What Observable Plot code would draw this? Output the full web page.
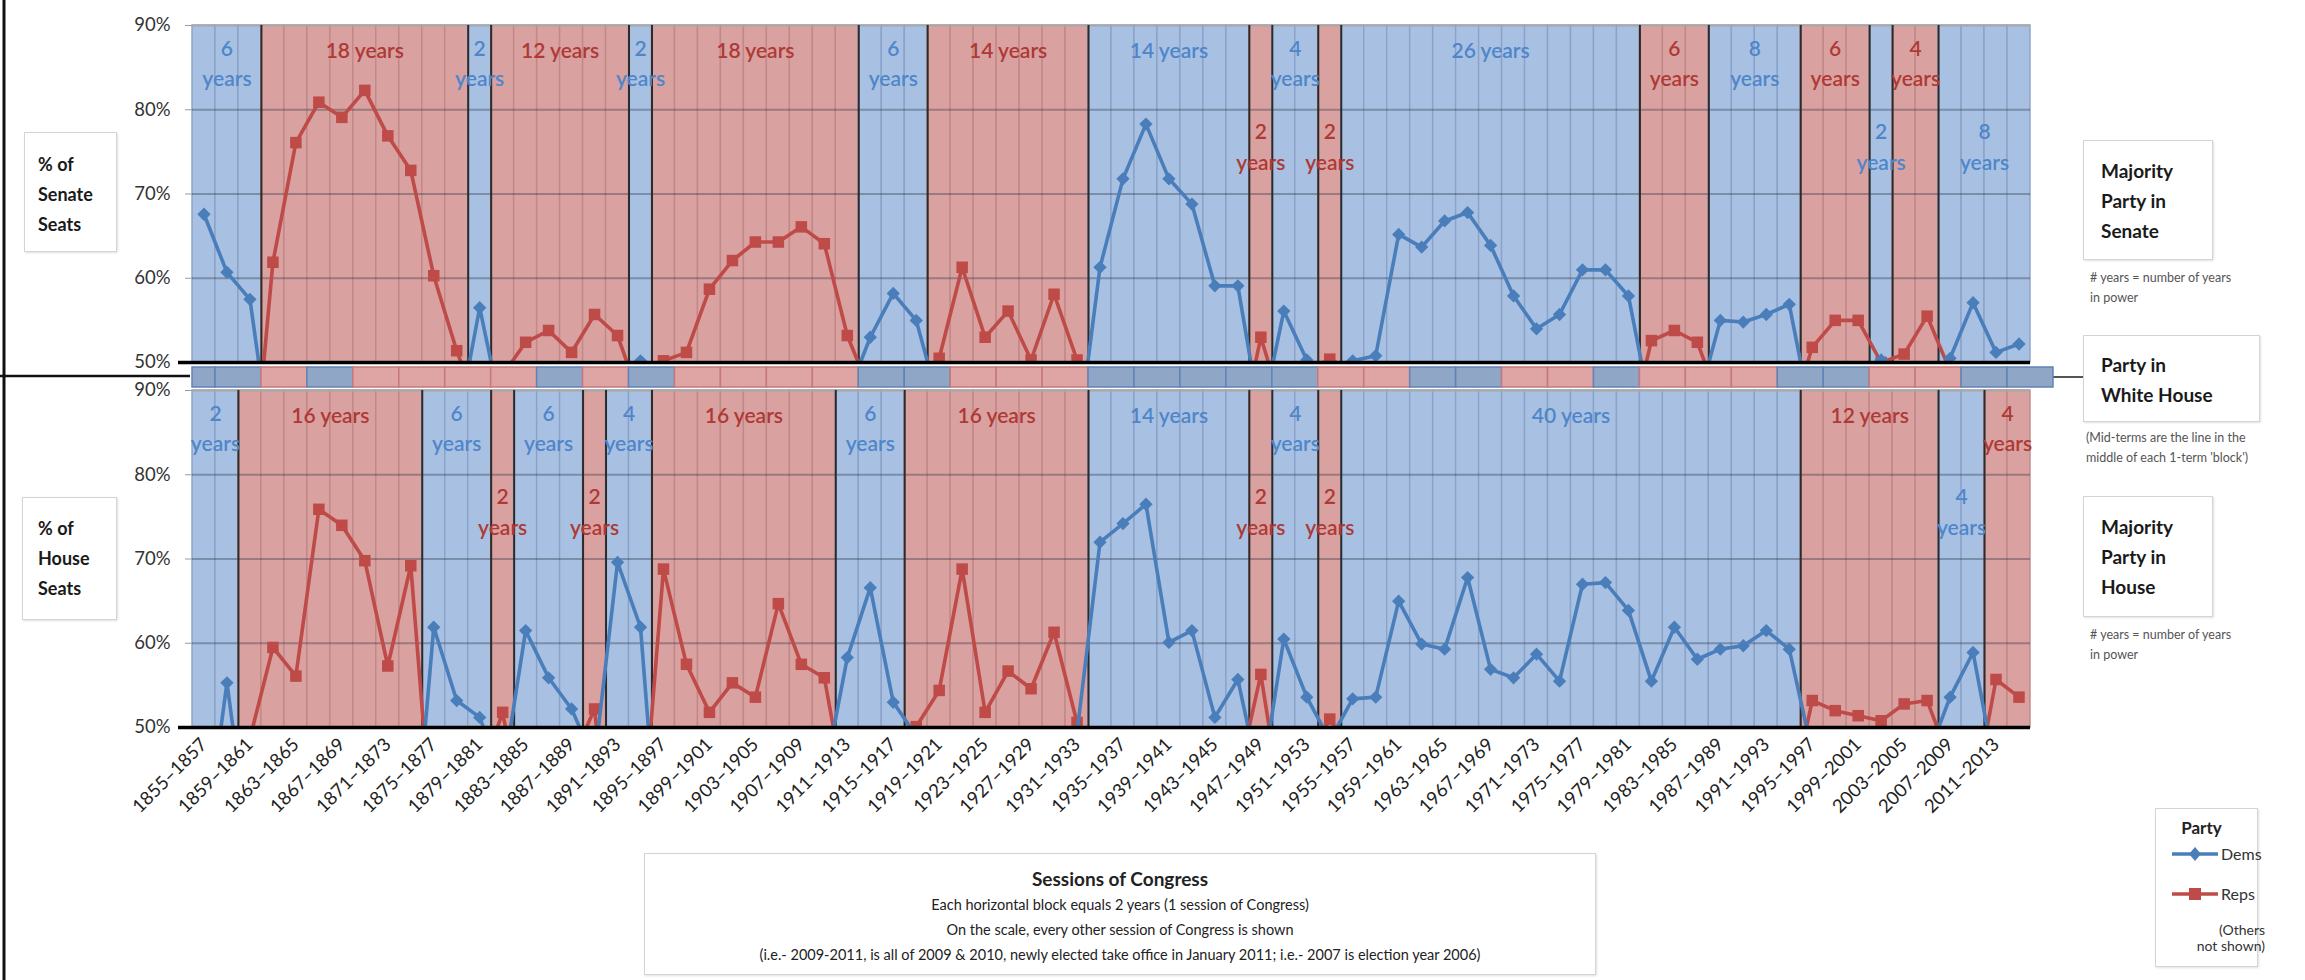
<!DOCTYPE html>
<html><head><meta charset="utf-8">
<script src="https://cdn.jsdelivr.net/npm/d3@7"></script>
<script src="https://cdn.jsdelivr.net/npm/@observablehq/plot@0.6"></script>
<style>
body{margin:0;background:#fff;font-family:Lato,"Open Sans",sans-serif;}
#wrap{position:relative;width:2305px;height:980px;overflow:hidden;background:#fff;}
.box{position:absolute;border:1.5px solid #d4d4d4;background:#fff;box-shadow:1px 1px 2px rgba(0,0,0,0.12);box-sizing:border-box;}
.bt{font-weight:700;color:#1a1a1a;font-size:18px;line-height:30px;}
.note{position:absolute;font-size:12.5px;color:#555;line-height:20px;white-space:nowrap;}
</style></head><body><div id="wrap"></div>
<script>
// ---------- data ----------
const sessionYears = d3.range(1855, 2015, 2); // start year of each 2-year session of Congress

const tickLabels = ["1855–1857","1859–1861","1863–1865","1867–1869","1871–1873","1875–1877","1879–1881","1883–1885","1887–1889","1891–1893","1895–1897","1899–1901","1903–1905","1907–1909","1911–1913","1915–1917","1919–1921","1923–1925","1927–1929","1931–1933","1935–1937","1939–1941","1943–1945","1947–1949","1951–1953","1955–1957","1959–1961","1963–1965","1967–1969","1971–1973","1975–1977","1979–1981","1983–1985","1987–1989","1991–1993","1995–1997","1999–2001","2003–2005","2007–2009","2011–2013"];

// Senate majority blocks
const senateBlockStart = [1855,1861,1879,1881,1893,1895,1913,1919,1933,1947,1949,1953,1955,1981,1987,1995,2001,2003,2007];
const senateBlockParty = ["D","R","D","R","D","R","D","R","D","R","D","R","D","R","D","R","D","R","D"];
const senateBlockYears = ["6","18","2","12","2","18","6","14","14","2","4","2","26","6","8","6","2","4","8"];
const senateLabelStyle = ["high","line","high","line","high","line","high","line","line","low","high","low","line","high","high","high","low","high","low"];

// House majority blocks
const houseBlockStart = [1855,1859,1875,1881,1883,1889,1891,1895,1911,1917,1933,1947,1949,1953,1955,1995,2007,2011];
const houseBlockParty = ["D","R","D","R","D","R","D","R","D","R","D","R","D","R","D","R","D","R"];
const houseBlockYears = ["2","16","6","2","6","2","4","16","6","16","14","2","4","2","40","12","4","4"];
const houseLabelStyle = ["high","line","high","low","high","low","high","line","high","line","line","low","high","low","line","line","low","high"];
const lastSessionEnd = 2015;

// % of Senate seats, one value per session (values below 50% are off-scale)
const senateDem = [67.6,60.7,57.5,38,null,null,null,null,null,null,
  null,42,56.5,43.5,null,null,null,null,46,50.2,
  46,null,null,null,null,null,null,null,46,53.0,
  58.2,55.0,45,null,null,null,null,null,40,61.3,
  71.8,78.3,71.8,68.8,59.1,59.1,43,56.1,50.3,48.8,
  50.2,50.8,65.2,63.7,66.8,67.8,63.9,57.9,54.0,55.7,
  61.0,61.0,57.9,44,null,45,55.0,54.8,55.7,56.9,
  43,null,45,50.3,48.5,44,50.5,57.1,51.2,52.2];
const senateRep = [null,null,32,61.9,76.1,80.9,79.1,82.3,76.9,72.8,
  60.3,51.4,44,48.5,52.4,53.8,51.2,55.7,53.2,45.5,
  50.2,51.2,58.7,62.1,64.3,64.3,66.1,64.1,53.2,46.5,
  null,44,50.5,61.3,53.0,56.1,50.3,58.1,50.3,37,
  null,null,null,null,null,40,53.0,44,49,50.4,
  49,49,null,null,null,null,null,null,null,null,
  null,null,41,52.6,53.8,52.4,45,null,null,43,
  51.8,55.0,55.0,50,51.0,55.5,49,41,47,45];

// % of House seats
const houseDem = [35,55.3,35,null,null,null,null,null,null,30,
  61.9,53.2,51.2,44,61.5,55.9,52.2,46,69.6,61.9,
  27,null,null,null,null,null,null,44,58.3,66.6,
  53.0,49.0,44,null,null,null,null,null,49.4,72.0,
  74.2,76.5,60.1,61.5,51.2,55.7,43,60.5,53.6,48.5,
  53.4,53.6,65.0,59.9,59.3,67.8,56.9,55.9,58.7,55.5,
  67.0,67.2,63.9,55.5,61.9,58.1,59.3,59.7,61.5,59.3,
  47,null,null,null,null,46.4,53.6,58.9,44.4,null];
const houseRep = [null,38,48.7,59.5,56.1,75.9,74.0,69.8,57.3,69.2,
  35,46,44,51.8,37,43,46,52.2,26,35,
  68.8,57.5,51.8,55.3,53.6,64.7,57.5,55.9,41,30,
  45,50.1,54.4,68.8,51.8,56.7,54.6,61.3,50.6,27,
  null,null,null,null,null,44,56.3,39,45.7,51.0,
  46.7,null,null,null,null,null,null,null,null,null,
  null,null,null,null,null,null,null,null,null,40.5,
  53.2,52.0,51.4,50.8,52.8,53.2,46,41,55.7,53.6];

// Party in the White House, by presidential term
const whStart = [1855,1857,1861,1865,1869,1873,1877,1881,1885,1889,1893,1897,1901,1905,1909,1913,1917,1921,1925,1929,1933,1937,1941,1945,1949,1953,1957,1961,1965,1969,1973,1977,1981,1985,1989,1993,1997,2001,2005,2009,2013];
const whParty = ["D","D","R","D","R","R","R","R","D","R","D","R","R","R","R","D","D","R","R","R","D","D","D","D","D","R","R","D","D","R","R","D","R","R","R","D","D","R","R","D","D"];
const whEnd = 2017;

// ---------- styles ----------
const DEM = "#4a7ebb", REP = "#be4b48";
const cellFill = {D:"#a8c1e3", R:"#daa1a1"};
const cellStroke = {D:"#8aa2c8", R:"#c28888"};
const labelColor = {D:"#4f86c9", R:"#ae3935"};
const whFill = {D:"#8fa6c7", R:"#dfa4a4"};
const whStroke = {D:"#6282b5", R:"#c47a7a"};
const FONT = "Lato, 'Open Sans', sans-serif";

function blocks(starts, parties, years, styles) {
  return starts.map((s,i) => ({start:s, end: i+1<starts.length ? starts[i+1] : lastSessionEnd, party:parties[i], label:years[i], style:styles[i]}));
}
function cells(bl) {
  const out = [];
  for (const b of bl) for (const y of sessionYears) if (y >= b.start && y < b.end) out.push({start:y, end:y+2, party:b.party});
  return out;
}
function labelRows(bl) {
  const out = [];
  for (const b of bl) {
    const x = (b.start + b.end) / 2;
    if (b.style === "line") out.push({x, y:87, text:b.label + " years", party:b.party});
    else if (b.style === "high") { out.push({x, y:87.2, text:b.label, party:b.party}); out.push({x, y:83.6, text:"years", party:b.party}); }
    else { out.push({x, y:77.3, text:b.label, party:b.party}); out.push({x, y:73.6, text:"years", party:b.party}); }
  }
  return out;
}

const wrap = document.getElementById("wrap");
function place(node, top, left) { node.style.position = "absolute"; node.style.top = top + "px"; node.style.left = (left||0) + "px"; wrap.appendChild(node); }

function panel(bl, dem, rep, withX, height, marginBottom) {
  const rows = sessionYears.map((s,i) => ({mid: s + 1, dem: dem[i] ?? NaN, rep: rep[i] ?? NaN}));
  const tickPos = tickLabels.map(l => +l.slice(0,4) + 1);
  const tickMap = new Map(tickPos.map((p,i) => [p, tickLabels[i]]));
  const marks = [
    Plot.rect(cells(bl), {x1:"start", x2:"end", y1:50, y2:90, fill:d=>cellFill[d.party], stroke:d=>cellStroke[d.party], strokeWidth:1.4}),
    Plot.ruleY([60,70,80], {stroke:"#1e2838", strokeOpacity:0.33, strokeWidth:2.2}),
    Plot.ruleY([90], {stroke:"#a8a8a8", strokeWidth:2}),
    Plot.ruleX(bl.slice(1).map(b => b.start), {y1:50, y2:90, stroke:"#2b2b2b", strokeWidth:2}),
    Plot.text(labelRows(bl), {x:"x", y:"y", text:"text", fill:d=>labelColor[d.party], fontSize:21, fontWeight:600}),
    Plot.line(rows, {x:"mid", y:"rep", stroke:REP, strokeWidth:3.6, clip:true}),
    Plot.dot(rows, {x:"mid", y:"rep", symbol:"square", r:6.5, fill:REP, clip:true}),
    Plot.line(rows, {x:"mid", y:"dem", stroke:DEM, strokeWidth:3.6, clip:true}),
    Plot.dot(rows, {x:"mid", y:"dem", symbol:"diamond2", r:6, fill:DEM, clip:true}),
    Plot.ruleY([50], {stroke:"#000", strokeWidth:3.5}),
    Plot.axisY({ticks:[50,60,70,80,90], tickFormat:d => d + "%", fontSize:18.5, tickSize:7, tickPadding:15, stroke:"#9a9a9a", fill:"#333"}),
    Plot.axisY({ticks:[50], tickSize:14, tickFormat:() => "", stroke:"#000", strokeWidth:3.5})
  ];
  if (withX) marks.push(Plot.axisX({ticks:tickPos, tickFormat:d => tickMap.get(d), tickRotate:-45, tickSize:0, tickPadding:14, fontSize:18.5, fill:"#222"}));
  return Plot.plot({
    width:2305, height, marginLeft:192, marginRight:275, marginTop:25, marginBottom,
    x:{domain:[1855,2015], label:null, axis: withX ? undefined : null},
    y:{domain:[50,90], label:null},
    color:{type:"identity"},
    style:{fontFamily:FONT, background:"transparent", overflow:"visible"},
    marks
  });
}

const senBlocks = blocks(senateBlockStart, senateBlockParty, senateBlockYears, senateLabelStyle);
const houseBlocks = blocks(houseBlockStart, houseBlockParty, houseBlockYears, houseLabelStyle);

// frame lines on the far left and connector
const deco = document.createElementNS("http://www.w3.org/2000/svg","svg");
deco.setAttribute("width","2305"); deco.setAttribute("height","980");
deco.innerHTML = '<line x1="4" y1="0" x2="4" y2="980" stroke="#111" stroke-width="3"/>' +
  '<line x1="0" y1="376" x2="190" y2="376" stroke="#111" stroke-width="2.5"/>' +
  '<line x1="2053" y1="377" x2="2083" y2="377" stroke="#555" stroke-width="2"/>';
place(deco, 0, 0);

place(panel(senBlocks, senateDem, senateRep, false, 375, 13), 0, 0);
place(panel(houseBlocks, houseDem, houseRep, true, 615, 253), 365, 0);

// White House bar
const whRows = whStart.map((s,i) => ({start:s, end: i+1<whStart.length ? whStart[i+1] : whEnd, party:whParty[i]}));
const wh = Plot.plot({
  width:2305, height:30, marginLeft:192, marginRight:275, marginTop:5, marginBottom:5,
  x:{domain:[1855,2015], axis:null}, y:{domain:[0,1], axis:null},
  color:{type:"identity"},
  style:{background:"transparent", overflow:"visible"},
  marks:[Plot.rect(whRows, {x1:"start", x2:"end", y1:0, y2:1, fill:d=>whFill[d.party], stroke:d=>whStroke[d.party], strokeWidth:1.5})]
});
place(wh, 362, 0);

// ---------- annotation boxes ----------
function box(left, top, w, h, html, pad) {
  const d = document.createElement("div"); d.className = "box";
  d.style.left = left+"px"; d.style.top = top+"px"; d.style.width = w+"px"; d.style.height = h+"px";
  d.style.padding = pad || "14px 0 0 16px";
  d.innerHTML = html; wrap.appendChild(d); return d;
}
function note(left, top, html) { const d = document.createElement("div"); d.className = "note"; d.style.left = left+"px"; d.style.top = top+"px"; d.innerHTML = html; wrap.appendChild(d); }

box(24, 132, 93, 120, '<div class="bt">% of<br>Senate<br>Seats</div>', "16px 0 0 13px");
box(22, 497, 95, 123, '<div class="bt">% of<br>House<br>Seats</div>', "15px 0 0 15px");

box(2083, 140, 130, 120, '<div class="bt" style="font-size:19px">Majority<br>Party in<br>Senate</div>', "15px 0 0 17px");
note(2090, 268, "# years = number of years<br>in power");
box(2083, 335, 177, 87, '<div class="bt" style="font-size:19px">Party in<br>White House</div>', "14px 0 0 17px");
note(2086, 428, "(Mid-terms are the line in the<br>middle of each 1-term 'block')");
box(2083, 496, 130, 121, '<div class="bt" style="font-size:19px">Majority<br>Party in<br>House</div>', "15px 0 0 17px");
note(2090, 625, "# years = number of years<br>in power");

// caption box
box(644, 853, 952, 122,
  '<div style="text-align:center;color:#222;">' +
  '<div style="font-weight:700;font-size:19px;line-height:26px;">Sessions of Congress</div>' +
  '<div style="font-size:14.5px;line-height:25px;">Each horizontal block equals 2 years (1 session of Congress)</div>' +
  '<div style="font-size:14.5px;line-height:25px;">On the scale, every other session of Congress is shown</div>' +
  '<div style="font-size:14.5px;line-height:25px;">(i.e.- 2009-2011, is all of 2009 &amp; 2010, newly elected take office in January 2011; i.e.- 2007 is election year 2006)</div>' +
  '</div>', "12px 0 0 0");

// legend
box(2155, 808, 103, 159,
  '<div style="text-align:center;font-weight:700;font-size:17px;color:#222;margin-left:-10px;">Party</div>' +
  '<svg width="100" height="80" style="position:absolute;left:10px;top:36px;overflow:visible">' +
  '<line x1="6" y1="9" x2="52" y2="9" stroke="'+DEM+'" stroke-width="3.5"/>' +
  '<path d="M29,2 L35,9 L29,16 L23,9 Z" fill="'+DEM+'"/>' +
  '<text x="55" y="15" font-size="16" fill="#333" font-family="Lato">Dems</text>' +
  '<line x1="6" y1="49" x2="52" y2="49" stroke="'+REP+'" stroke-width="3.5"/>' +
  '<rect x="23" y="43" width="12" height="12" fill="'+REP+'"/>' +
  '<text x="55" y="55" font-size="16" fill="#333" font-family="Lato">Reps</text>' +
  '</svg>' +
  '<div style="position:absolute;right:-8px;top:113px;text-align:right;font-size:14px;line-height:16px;color:#333;">(Others<br>not shown)</div>',
  "8px 0 0 0");
</script></body></html>
